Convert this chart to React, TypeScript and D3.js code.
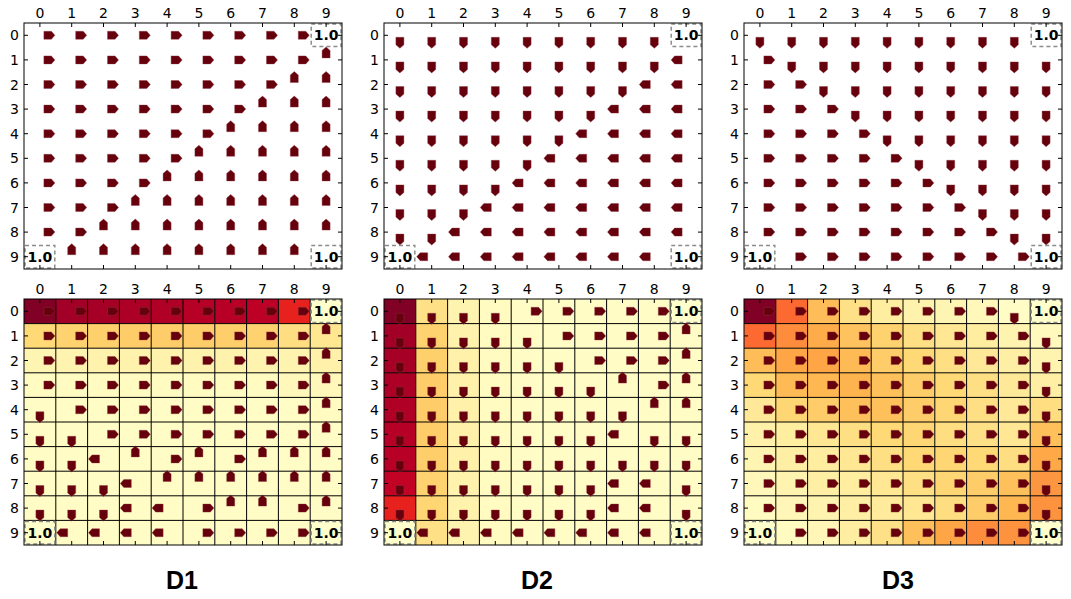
import * as React from 'react';
import * as d3 from 'd3';

// grid indices and axis tick labels
const cells = d3.range(10);
const tickLabels = cells.map(String);
const panelTitles = ['D1', 'D2', 'D3'];

// policies, one string per row: R right, L left, U up, D down, T terminal
const optimalD1 = [
  'RRRRRRRRRT',
  'RRRRRRRRRU',
  'RRRRRRRRUU',
  'RRRRRRRUUU',
  'RRRRRRUUUU',
  'RRRRRUUUUU',
  'RRRRUUUUUU',
  'RRRUUUUUUU',
  'RRUUUUUUUU',
  'TUUUUUUUUT',
];
const optimalD2 = [
  'DDDDDDDDDT',
  'DDDDDDDDDL',
  'DDDDDDDDLL',
  'DDDDDDDLLL',
  'DDDDDDLLLL',
  'DDDDDLLLLL',
  'DDDDLLLLLL',
  'DDDLLLLLLL',
  'DDLLLLLLLL',
  'TLLLLLLLLT',
];
const optimalD3 = [
  'DDDDDDDDDT',
  'RDDDDDDDDD',
  'RRDDDDDDDD',
  'RRRDDDDDDD',
  'RRRRDDDDDD',
  'RRRRRDDDDD',
  'RRRRRRDDDD',
  'RRRRRRRDDD',
  'RRRRRRRRDD',
  'TRRRRRRRRT',
];

const learnedD1 = [
  'RRRRRRRRRT',
  'RRRRRRRRRU',
  'RRRRRRRRRU',
  'RRRRRRRRRU',
  'DRRRRRRRRU',
  'DDRRRRRRRU',
  'DDLURURUUU',
  'DDDLUUUUUU',
  'DDDLLRUURU',
  'TLLLLRRRRT',
];
const learnedD2 = [
  'DDDDRRRRRT',
  'DDDDDRRRRU',
  'DDDDDDRRRU',
  'DDDDDDDURU',
  'DDDDDDDDUU',
  'DDDDDDDLDD',
  'DDDDDDDDDD',
  'DDDDDDDLLD',
  'DDDDDDDLLD',
  'TLLLLLLLLT',
];
const learnedD3 = [
  'RRRRRRRRDT',
  'RRRRRRRRRD',
  'RRRRRRRRRD',
  'RRRRRRRRRD',
  'RRRRRRRRRD',
  'RRRRRRRRRD',
  'RRRRRRRRRD',
  'RRRRRRRRRD',
  'RRRRRRRRRD',
  'TRRRRRRRRT',
];

// normalised visit frequencies (0..1)
const visitsD1 = [
  [1.0, 0.93, 0.92, 0.91, 0.9, 0.89, 0.885, 0.875, 0.73, 0],
  [0.25, 0.27, 0.28, 0.29, 0.29, 0.29, 0.285, 0.27, 0.22, 0.17],
  [0.07, 0.08, 0.09, 0.09, 0.09, 0.09, 0.09, 0.08, 0.08, 0.1],
  [0.03, 0.03, 0.03, 0.03, 0.03, 0.03, 0.03, 0.03, 0.05, 0.05],
  [0.02, 0.02, 0.02, 0.02, 0.02, 0.02, 0.02, 0.02, 0.02, 0.03],
  [0.02, 0.02, 0.02, 0.02, 0.02, 0.02, 0.02, 0.02, 0.02, 0.02],
  [0.02, 0.02, 0.02, 0.02, 0.02, 0.02, 0.02, 0.02, 0.02, 0.02],
  [0.02, 0.02, 0.02, 0.02, 0.02, 0.02, 0.02, 0.02, 0.02, 0.02],
  [0.02, 0.02, 0.02, 0.02, 0.02, 0.02, 0.02, 0.02, 0.02, 0.02],
  [0, 0.02, 0.02, 0.02, 0.02, 0.02, 0.02, 0.02, 0.02, 0],
];
const visitsD2 = [
  [1.0, 0.2, 0.08, 0.03, 0.02, 0.02, 0.02, 0.02, 0.02, 0],
  [0.93, 0.27, 0.09, 0.03, 0.02, 0.02, 0.02, 0.02, 0.02, 0.02],
  [0.92, 0.28, 0.1, 0.03, 0.02, 0.02, 0.02, 0.02, 0.02, 0.02],
  [0.91, 0.29, 0.1, 0.03, 0.02, 0.02, 0.02, 0.02, 0.02, 0.02],
  [0.9, 0.29, 0.1, 0.03, 0.02, 0.02, 0.02, 0.02, 0.02, 0.02],
  [0.89, 0.29, 0.1, 0.03, 0.02, 0.02, 0.02, 0.02, 0.02, 0.02],
  [0.885, 0.285, 0.1, 0.03, 0.02, 0.02, 0.02, 0.02, 0.02, 0.02],
  [0.86, 0.27, 0.09, 0.03, 0.02, 0.02, 0.02, 0.02, 0.02, 0.02],
  [0.73, 0.26, 0.09, 0.03, 0.02, 0.02, 0.02, 0.02, 0.02, 0.02],
  [0, 0.2, 0.08, 0.03, 0.02, 0.02, 0.02, 0.02, 0.02, 0],
];
const visitsD3 = [
  [1.0, 0.57, 0.34, 0.2, 0.125, 0.09, 0.07, 0.05, 0.02, 0],
  [0.57, 0.5, 0.4, 0.32, 0.27, 0.21, 0.16, 0.125, 0.08, 0.04],
  [0.34, 0.42, 0.42, 0.35, 0.29, 0.25, 0.21, 0.15, 0.11, 0.08],
  [0.25, 0.35, 0.36, 0.37, 0.33, 0.29, 0.25, 0.21, 0.15, 0.11],
  [0.15, 0.26, 0.29, 0.33, 0.33, 0.29, 0.26, 0.21, 0.15, 0.22],
  [0.1, 0.125, 0.16, 0.21, 0.25, 0.26, 0.22, 0.2, 0.16, 0.33],
  [0.07, 0.11, 0.125, 0.16, 0.21, 0.25, 0.26, 0.25, 0.22, 0.41],
  [0.05, 0.08, 0.11, 0.125, 0.16, 0.21, 0.26, 0.29, 0.33, 0.47],
  [0.03, 0.06, 0.08, 0.11, 0.14, 0.16, 0.22, 0.29, 0.36, 0.48],
  [0, 0.03, 0.06, 0.12, 0.2, 0.33, 0.42, 0.5, 0.48, 0],
];

const topRow = [optimalD1, optimalD2, optimalD3];
const bottomRow = [learnedD1, learnedD2, learnedD3];
const heatRow = [visitsD1, visitsD2, visitsD3];

// matplotlib YlOrRd
const ylOrRd = ['#ffffcc', '#ffeda0', '#fed976', '#feb24c', '#fd8d3c', '#fc4e2a', '#e31a1c', '#bd0026', '#800026'];
const color = d3
  .scaleLinear<string>()
  .domain(d3.range(9).map((i) => i / 8))
  .range(ylOrRd)
  .interpolate(d3.interpolateRgb)
  .clamp(true);

const panel = { width: 318, height: 246 };
const panelLeft = [24, 384, 744];
const panelTop = [23, 299];
const titleShift = [-1, -6, -5];

const x = d3.scaleBand(cells, [0, panel.width]);
const y = d3.scaleBand(cells, [0, panel.height]);

const arrowRight = 'M-5.5,-4L2,-4L5.5,0L2,4L-5.5,4Z';
const arrowSpec: Record<string, { dx: number; dy: number; rot: number }> = {
  R: { dx: 9.5, dy: 0, rot: 0 },
  L: { dx: -9.5, dy: 0, rot: 180 },
  U: { dx: 0, dy: -7.5, rot: -90 },
  D: { dx: 0, dy: 7.5, rot: 90 },
};

const font = 'DejaVu Sans, sans-serif';

interface PanelProps {
  left: number;
  top: number;
  policy: string[];
  heat?: number[][];
}

const GridPanel: React.FC<PanelProps> = ({ left, top, policy, heat }) => {
  const bw = x.bandwidth();
  const bh = y.bandwidth();
  return (
    <g transform={`translate(${left},${top})`}>
      <rect width={panel.width} height={panel.height} fill="#fff" />
      {heat &&
        heat.map((row, r) =>
          row.map((v, c) => (
            <rect key={`h${r}-${c}`} x={x(c)} y={y(r)} width={bw} height={bh} fill={color(v)} />
          ))
        )}
      {heat &&
        cells.slice(1).map((i) => (
          <g key={`g${i}`}>
            <line x1={x(i)} x2={x(i)} y1={0} y2={panel.height} stroke="#000" strokeWidth={1} />
            <line x1={0} x2={panel.width} y1={y(i)} y2={y(i)} stroke="#000" strokeWidth={1} />
          </g>
        ))}
      {policy.map((row, r) =>
        row.split('').map((a, c) => {
          const cx = (x(c) ?? 0) + bw / 2;
          const cy = (y(r) ?? 0) + bh / 2;
          if (a === 'T') {
            return (
              <g key={`a${r}-${c}`}>
                <rect
                  x={(x(c) ?? 0) + 1}
                  y={(y(r) ?? 0) + 1}
                  width={bw - 2}
                  height={bh - 2}
                  fill="none"
                  stroke="#8c8c8c"
                  strokeWidth={1.5}
                  strokeDasharray="4,3"
                />
                <text
                  x={cx}
                  y={cy}
                  textAnchor="middle"
                  dominantBaseline="central"
                  fontFamily={font}
                  fontWeight="bold"
                  fontSize={14}
                >
                  1.0
                </text>
              </g>
            );
          }
          const s = arrowSpec[a];
          return (
            <path
              key={`a${r}-${c}`}
              d={arrowRight}
              transform={`translate(${cx + s.dx},${cy + s.dy}) rotate(${s.rot})`}
              fill="#67000d"
              stroke="#8a3a40"
              strokeWidth={0.4}
            />
          );
        })
      )}
      <rect width={panel.width} height={panel.height} fill="none" stroke="#000" strokeWidth={1} />
      {cells.map((i) => {
        const cx = (x(i) ?? 0) + bw / 2;
        const cy = (y(i) ?? 0) + bh / 2;
        return (
          <g key={`t${i}`} stroke="#000" strokeWidth={1}>
            <line x1={cx} x2={cx} y1={0} y2={4} />
            <line x1={cx} x2={cx} y1={panel.height} y2={panel.height - 4} />
            <line x1={0} x2={4} y1={cy} y2={cy} />
            <line x1={panel.width} x2={panel.width - 4} y1={cy} y2={cy} />
          </g>
        );
      })}
      {cells.map((i) => (
        <text
          key={`cx${i}`}
          x={(x(i) ?? 0) + bw / 2}
          y={-10}
          textAnchor="middle"
          dominantBaseline="central"
          fontFamily={font}
          fontSize={14}
        >
          {tickLabels[i]}
        </text>
      ))}
      {cells.map((i) => (
        <text
          key={`ry${i}`}
          x={-5}
          y={(y(i) ?? 0) + bh / 2}
          textAnchor="end"
          dominantBaseline="central"
          fontFamily={font}
          fontSize={14}
        >
          {tickLabels[i]}
        </text>
      ))}
    </g>
  );
};

const App: React.FC = () => (
  <svg
    width={1071}
    height={599}
    viewBox="0 0 1071 599"
    style={{ position: 'absolute', left: 0, top: 0, background: '#fff' }}
  >
    {panelLeft.map((left, k) => (
      <g key={k}>
        <GridPanel left={left} top={panelTop[0]} policy={topRow[k]} />
        <GridPanel left={left} top={panelTop[1]} policy={bottomRow[k]} heat={heatRow[k]} />
        <text
          x={left + panel.width / 2 + titleShift[k]}
          y={580}
          textAnchor="middle"
          dominantBaseline="central"
          fontFamily="Liberation Sans, Arial, sans-serif"
          fontWeight="bold"
          fontSize={25}
        >
          {panelTitles[k]}
        </text>
      </g>
    ))}
  </svg>
);

export default App;
